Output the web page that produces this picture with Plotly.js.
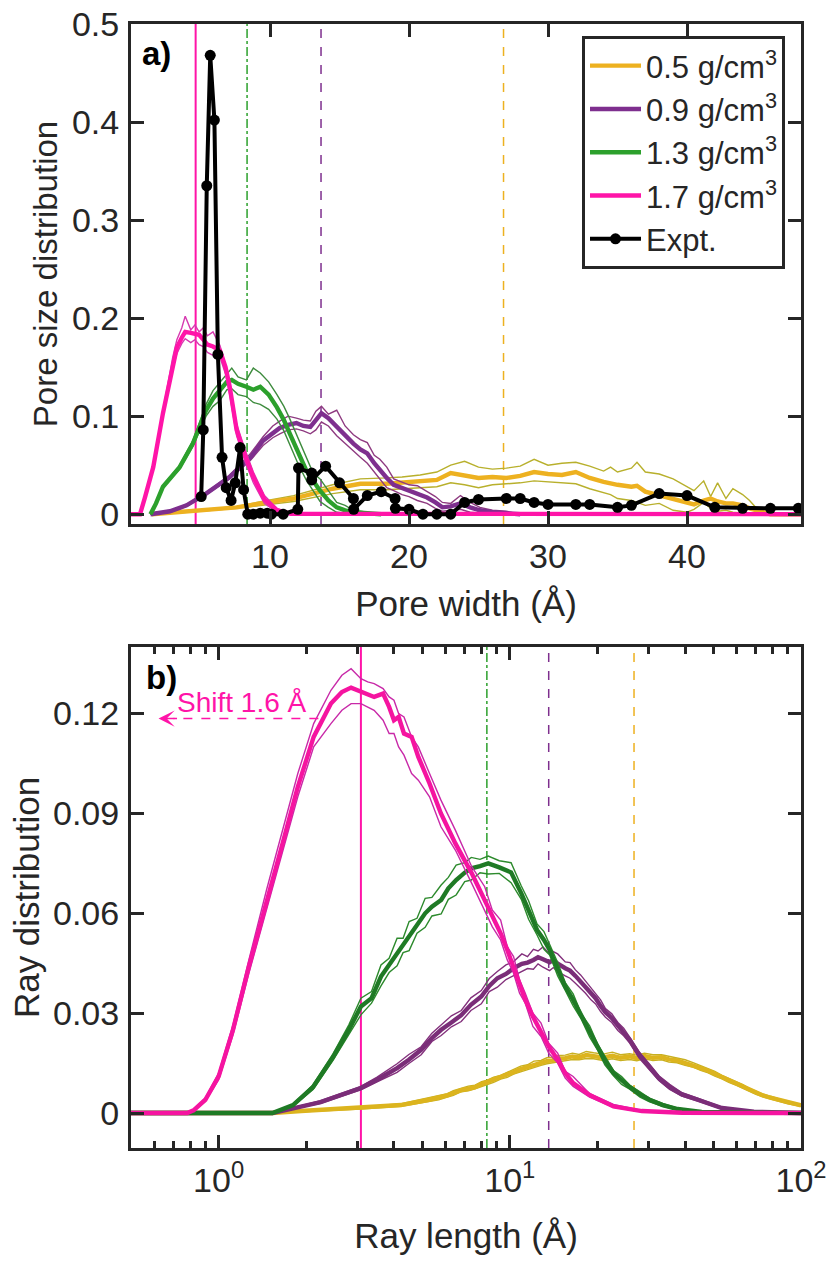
<!DOCTYPE html>
<html>
<head>
<meta charset="utf-8">
<script src="https://cdn.plot.ly/plotly-3.0.1.min.js"></script>
<style>html,body{margin:0;padding:0;background:#fff}</style>
</head>
<body>
<div id="chart" style="width:831px;height:1265px"></div>
<script>
// panel a: pore size distribution
const poreOrangeX = [1.5,4,7.6,9.8,11.7,14.5,16.5,18.4,19.5,20.8,22,23,24,25,26,27,28,29,30,31,32,33,34,34.5,35,36,36.4,37,38,39,40,40.5,41.2,41.7,42.2,42.8,43.3,44,44.5,45,46,48.2]
const poreOrange = [0,.003,.007,.012,.016,.026,.031,.031,.032,.033,.035,.042,.04,.037,.038,.037,.039,.043,.041,.04,.043,.037,.033,.031,.03,.028,.029,.023,.019,.016,.012,.01,.014,.016,.013,.011,.011,.009,.006,.004,0,0]
const poreOrangeHi = [0,.003,.008,.014,.019,.03,.036,.037,.038,.04,.043,.05,.054,.048,.046,.047,.049,.056,.05,.052,.053,.049,.044,.048,.043,.047,.053,.043,.041,.036,.028,.024,.034,.018,.032,.016,.026,.02,.014,.006,0,0]
const poreOrangeLo = [0,.002,.006,.01,.013,.021,.025,.025,.026,.027,.028,.032,.03,.027,.03,.031,.032,.034,.033,.032,.031,.026,.022,.02,.016,.014,.012,.009,.011,.004,.002,.005,.012,.006,.003,.004,.002,.001,.001,0,0,0]

const porePurpleX = [1.4,2.8,4,5.4,7.1,8.6,9.5,10.2,10.7,11.3,11.9,12.4,12.9,13.3,13.7,14.2,14.8,15.4,16,16.5,17,17.5,17.9,18.4,18.9,19.5,20,20.6,21.3,21.9,22.4,23,23.7,24.4,25.1,26,27,28]
const porePurple = [0,.003,.009,.021,.038,.058,.075,.083,.088,.091,.093,.09,.089,.096,.103,.098,.089,.081,.072,.066,.062,.052,.045,.037,.03,.027,.024,.021,.017,.012,.007,.008,.011,.007,.004,.002,.001,0]
const porePurpleHi = [0,.003,.01,.022,.04,.062,.079,.09,.095,.1,.098,.096,.095,.105,.11,.102,.106,.09,.081,.076,.073,.06,.056,.048,.036,.033,.03,.029,.023,.018,.012,.011,.019,.012,.007,.004,.003,0]
const porePurpleLo = [0,.002,.008,.02,.036,.055,.07,.078,.082,.086,.087,.085,.082,.086,.094,.09,.08,.072,.064,.058,.052,.043,.036,.027,.024,.02,.018,.014,.011,.006,.003,.004,.005,.002,.001,0,0,0]

const poreGreenX = [1.4,1.8,2.3,3.5,4.45,5.4,5.9,6.4,6.9,7.25,7.7,8.3,8.8,9.3,9.9,10.5,11,11.4,12,12.6,13.1,13.6,14.2,14.8,15.4,16,17,18]
const poreGreen = [0,.011,.028,.048,.072,.106,.118,.127,.135,.137,.133,.13,.127,.13,.122,.109,.096,.083,.064,.045,.034,.024,.014,.007,.004,.002,.001,0]
const poreGreenHi = [0,.012,.029,.05,.075,.112,.126,.134,.143,.149,.14,.137,.149,.144,.135,.122,.11,.098,.078,.058,.042,.036,.024,.012,.009,.004,.002,0]
const poreGreenLo = [0,.01,.027,.046,.069,.1,.11,.116,.127,.128,.122,.12,.114,.112,.107,.097,.085,.072,.052,.035,.024,.013,.007,.002,.001,0,0,0]

const porePinkX = [0,.65,1,1.6,2.3,3,3.3,3.65,3.9,4.3,4.6,4.9,5.2,5.5,5.9,6.4,6.8,7.1,7.6,8.2,8.8,9.6,10.5,11.5,48.2]
const porePink = [0,0,.017,.048,.103,.154,.17,.18,.186,.185,.184,.183,.178,.173,.171,.167,.15,.13,.086,.06,.038,.015,.004,.0005,0]
const porePinkHi = [0,0,.018,.05,.106,.16,.178,.19,.202,.188,.193,.186,.19,.182,.186,.172,.152,.134,.092,.066,.043,.019,.006,.001,0]
const porePinkLo = [0,0,.016,.046,.1,.148,.164,.174,.179,.175,.178,.173,.171,.165,.162,.16,.143,.122,.08,.054,.032,.011,.002,0,0]

const exptX = [5.05,5.2,5.45,5.7,6,6.25,6.55,6.85,7.2,7.5,7.85,8.1,8.4,8.8,9.3,9.8,10.1,10.95,12,12.05,13,13,14,15,16,16.02,17,18,19,19.02,20,21,22,23,24,25,27,28,29,30,32,33,35,36,38,40,42,44,46,48]
const expt = [.018,.086,.335,.468,.402,.163,.058,.027,.014,.032,.068,.025,0,0,.001,.001,0,0,.005,.047,.042,.035,.049,.032,.016,.005,.019,.023,.016,.006,.005,0,0,0,.012,.015,.016,.016,.012,.01,.01,.01,.007,.009,.021,.019,.007,.006,.006,.006]

// panel b: ray distribution
const rayOrangeX = [.5,1.53,1.92,3.08,4.23,5.28,5.7,6.1,6.4,6.81,7.2,7.6,8,8.37,8.8,9.3,9.8,10.3,10.9,11.5,12.1,12.8,13.4,14,14.7,15.5,16.4,17.3,18.3,19.4,20.9,22.5,24,25.8,27.3,29,31,33.2,35.2,37.5,40,42.8,45.2,48,50.6,53.5,56.5,60,63.2,66.8,70,74,78.5,83.3,90,100]
const rayOrange = [0,0,.0006,.0015,.0024,.004,.0046,.0053,.006,.0069,.0073,.0078,.0087,.0093,.0099,.0108,.0114,.0123,.0132,.0138,.0146,.015,.0156,.0158,.0164,.0165,.017,.0167,.0174,.0171,.0167,.0172,.0166,.017,.0165,.0171,.0166,.0168,.0161,.0158,.0151,.0144,.0135,.0127,.0118,.0108,.0098,.0088,.0079,.0069,.0061,.0053,.0046,.004,.0031,.0023]
const rayOrangeHi = [0,0,.0007,.0018,.0028,.0045,.0052,.0058,.0067,.0074,.0081,.0084,.0094,.0099,.0108,.0113,.0122,.0129,.0141,.0145,.0156,.0158,.0166,.0168,.0173,.0174,.018,.0176,.0185,.0181,.0177,.0183,.0175,.0178,.0174,.018,.0175,.0175,.017,.0165,.016,.0151,.0143,.0132,.0125,.0113,.0104,.0093,.0085,.0073,.0066,.0057,.0051,.0043,.0034,.0026]
const rayOrangeLo = [0,0,.0004,.0012,.002,.0035,.004,.0048,.0053,.0064,.0067,.0073,.008,.0087,.0092,.0102,.0107,.0117,.0124,.0131,.0138,.0143,.0148,.0151,.0155,.0157,.0161,.016,.0164,.0163,.0158,.0163,.0158,.0161,.0157,.0163,.0158,.016,.0153,.0151,.0143,.0137,.0128,.0121,.0111,.0103,.0092,.0083,.0074,.0065,.0056,.0049,.0042,.0037,.0028,.002]

const rayPurpleX = [.5,1.53,2.24,3.08,3.5,4.1,4.5,4.96,5.4,5.81,6.3,6.81,7.35,7.98,8.5,9.06,9.7,10.3,11,11.5,12.05,12.5,13,13.7,14.1,14.6,15.5,16.1,16.8,17.5,18.2,19,19.7,20.5,21.3,22.4,23.5,24.6,25.8,27.8,30.2,32.5,35.4,39,44.2,53.5,68.9,100]
const rayPurple = [0,0,.0033,.0075,.01,.0135,.016,.019,.0225,.025,.0272,.0294,.0325,.035,.0382,.0405,.0418,.0435,.0448,.0452,.046,.0468,.0462,.0453,.046,.0449,.0435,.0428,.0412,.0394,.038,.0357,.0345,.0322,.0303,.0285,.0262,.0243,.022,.0175,.0138,.0105,.0078,.0056,.004,.0015,.0004,0]
const rayPurpleHi = [0,0,.0037,.008,.0108,.0148,.0176,.0199,.024,.0264,.0292,.0308,.0346,.0368,.0404,.0425,.0445,.0455,.0478,.047,.0492,.0487,.0499,.0478,.0485,.0478,.0454,.0452,.043,.0415,.0396,.0376,.0358,.034,.0314,.0298,.0272,.0255,.0228,.0184,.0147,.0112,.0086,.0061,.0045,.0018,.0005,0]
const rayPurpleLo = [0,0,.0029,.007,.0094,.0122,.0149,.0175,.0215,.0233,.0259,.0275,.0308,.0328,.0365,.0378,.0401,.0412,.0425,.0434,.0432,.0448,.0438,.0428,.0437,.0425,.0412,.0405,.039,.0375,.036,.034,.0328,.0305,.0288,.0272,.0248,.0232,.021,.0165,.0129,.0098,.0071,.0051,.0036,.0012,.0003,0]

const rayGreenX = [.5,1.53,1.8,2.11,2.47,2.8,3.08,3.35,3.61,3.85,4.1,4.3,4.51,4.8,5.12,5.4,5.81,6.15,6.54,7,7.37,7.9,8.43,9.2,10.1,10.95,11.6,12.4,13.1,13.7,14.6,15.5,16.5,17.6,18.8,20,21.2,22.7,24.2,25.8,28,30.2,33.5,37.7,45.6,100]
const rayGreen = [0,0,.0024,.0078,.0168,.025,.032,.0345,.041,.0445,.048,.0505,.053,.0565,.06,.062,.064,.0675,.07,.0722,.0735,.0742,.075,.0738,.0723,.066,.061,.055,.052,.049,.0432,.038,.034,.029,.0245,.02,.0158,.012,.0098,.0078,.0056,.004,.0024,.0012,.0003,0]
const rayGreenHi = [0,0,.0027,.0085,.0178,.0265,.0345,.0365,.0445,.0465,.0525,.0525,.0575,.0585,.0645,.0648,.0685,.0708,.0745,.0752,.0768,.0762,.0772,.0758,.0752,.0682,.0638,.0568,.0545,.0505,.0452,.0392,.0358,.0298,.0262,.0208,.0172,.0128,.011,.0084,.0064,.0044,.0029,.0015,.0004,0]
const rayGreenLo = [0,0,.0021,.0071,.0158,.0235,.0295,.033,.0382,.0422,.0442,.0482,.0488,.054,.0558,.0592,.0598,.0642,.0655,.0695,.07,.0722,.0718,.072,.0692,.0642,.0582,.0535,.0492,.0475,.0412,.0368,.0322,.0282,.0228,.019,.0145,.0112,.0086,.0072,.0048,.0034,.002,.001,.0002,0]

const rayPinkX = [.5,.78,.82,.9,1,1.12,1.27,1.46,1.67,1.87,2.12,2.43,2.65,2.85,3.08,3.25,3.42,3.67,3.85,4,4.15,4.33,4.6,4.85,5.3,5.8,6.5,7.4,8.2,8.7,9.3,9.8,10.3,10.8,11.3,12,12.8,13.6,14.6,15.5,16.5,18.8,22.7,28.4,39,100]
const rayPink = [0,0,.0008,.004,.011,.025,.044,.064,.082,.098,.113,.123,.1265,.1278,.1265,.1255,.125,.126,.122,.118,.119,.114,.113,.107,.099,.09,.081,.072,.064,.059,.054,.049,.044,.039,.034,.029,.024,.02,.016,.012,.009,.0054,.002,.0006,.0001,0]
const rayPinkHi = [0,0,.001,.0045,.012,.0265,.046,.067,.086,.102,.117,.127,.1315,.1335,.1305,.1295,.129,.1275,.125,.124,.12,.119,.113,.11,.102,.094,.085,.074,.068,.061,.058,.05,.047,.04,.036,.03,.027,.021,.018,.0125,.011,.0058,.0026,.0008,.0002,0]
const rayPinkLo = [0,0,.0006,.0035,.01,.0235,.042,.061,.079,.095,.11,.117,.121,.123,.123,.122,.121,.118,.114,.114,.11,.1075,.102,.1,.095,.086,.079,.069,.061,.056,.052,.046,.042,.036,.033,.026,.023,.018,.015,.0105,.008,.0048,.0017,.0004,0,0]

const legendNames = ['0.5 g/cm<sup>3</sup>', '0.9 g/cm<sup>3</sup>', '1.3 g/cm<sup>3</sup>', '1.7 g/cm<sup>3</sup>', 'Expt.']
const poreMarks = [26.8, 13.67, 8.35, 4.65]
const rayMarks = [26.7, 13.6, 8.34, 3.08]
const markDash = ['dash', 'dash', 'dashdot', 'solid']

const ink = '#262626'
const font = 'Liberation Sans, Arial, sans-serif'
const colA = ['#edb120', '#7e2f8e', '#2ca02c', '#ff14a8']
const thinA = ['#b8b02c', '#8e3a80', '#3d8b3d', '#d63ab0']
const colB = ['#dcb41e', '#7a2d78', '#1f7a25', '#f514a0']
const thinB = ['#c8b020', '#83307c', '#2c8a2c', '#c829a8']

const traces = []
function band (xa, ya, x, mean, hi, lo, col, thin, name) {
  ;[hi, lo].forEach(y => traces.push({ x, y, xaxis: xa, yaxis: ya, mode: 'lines', showlegend: false, line: { color: thin, width: 1.4 }, hoverinfo: 'skip' }))
  traces.push({ x, y: mean, xaxis: xa, yaxis: ya, mode: 'lines', name: name || '', showlegend: !!name, legendgroup: name || undefined, line: { color: col, width: 4.4 } })
}
band('x', 'y', poreOrangeX, poreOrange, poreOrangeHi, poreOrangeLo, colA[0], thinA[0], legendNames[0])
band('x', 'y', porePurpleX, porePurple, porePurpleHi, porePurpleLo, colA[1], thinA[1], legendNames[1])
band('x', 'y', poreGreenX, poreGreen, poreGreenHi, poreGreenLo, colA[2], thinA[2], legendNames[2])
band('x', 'y', porePinkX, porePink, porePinkHi, porePinkLo, colA[3], thinA[3], legendNames[3])
traces.push({ x: exptX, y: expt, mode: 'lines+markers', name: legendNames[4], legendgroup: legendNames[4], line: { color: '#000', width: 4 }, marker: { color: '#000', size: 11 } })

band('x2', 'y2', rayOrangeX, rayOrange, rayOrangeHi, rayOrangeLo, colB[0], thinB[0])
band('x2', 'y2', rayPurpleX, rayPurple, rayPurpleHi, rayPurpleLo, colB[1], thinB[1])
band('x2', 'y2', rayGreenX, rayGreen, rayGreenHi, rayGreenLo, colB[2], thinB[2])
band('x2', 'y2', rayPinkX, rayPink, rayPinkHi, rayPinkLo, colB[3], thinB[3])

const shapes = []
poreMarks.forEach((v, i) => shapes.push({ type: 'line', layer: 'below', xref: 'x', yref: 'y domain', x0: v, x1: v, y0: 0, y1: 1, line: { color: colA[i], width: i === 3 ? 2 : 1.5, dash: markDash[i] } }))
rayMarks.forEach((v, i) => shapes.push({ type: 'line', layer: 'below', xref: 'x2', yref: 'y2 domain', x0: v, x1: v, y0: 0, y1: 1, line: { color: colA[i], width: i === 3 ? 2 : 1.5, dash: markDash[i] } }))
// shift arrow shaft
shapes.push({ type: 'line', xref: 'x2', yref: 'y2', x0: 2.2, x1: 0.7, y0: 0.1185, y1: 0.1185, line: { color: '#ff14a8', width: 1.5, dash: 'dash' } })

const axisBase = {
  showgrid: false, zeroline: false, showline: true, linecolor: ink, linewidth: 3, mirror: 'allticks',
  ticks: 'inside', tickcolor: ink, tickwidth: 3, ticklen: 13,
  tickfont: { family: font, size: 34, color: ink }
}
function title (text, standoff, size) {
  return { text, standoff, font: { family: font, size, color: ink } }
}

const layout = {
  width: 831, height: 1265, margin: { l: 0, r: 0, t: 0, b: 0 }, paper_bgcolor: '#fff', plot_bgcolor: '#fff',
  showlegend: true,
  legend: {
    x: 582 / 831, y: 1 - 36 / 1265, xanchor: 'left', yanchor: 'top', bgcolor: '#fff', bordercolor: ink, borderwidth: 3,
    font: { family: font, size: 31, color: ink }, itemwidth: 51, tracegroupgap: 8, traceorder: 'normal'
  },
  xaxis: Object.assign({}, axisBase, { domain: [131 / 831, 801 / 831], anchor: 'y', range: [0, 48.2], tickvals: [10, 20, 30, 40], title: title('Pore width (Å)', 18, 35) }),
  yaxis: Object.assign({}, axisBase, { domain: [1 - 524 / 1265, 1 - 24 / 1265], anchor: 'x', range: [-0.01, 0.5], tickvals: [0, 0.1, 0.2, 0.3, 0.4, 0.5], ticktext: ['0', '0.1', '0.2', '0.3', '0.4', '0.5'], ticklabelstandoff: 2, title: title('Pore size distribution', 5, 33) }),
  xaxis2: Object.assign({}, axisBase, {
    domain: [131 / 831, 801 / 831], anchor: 'y2', type: 'log', range: [Math.log10(0.5), 2],
    tickvals: [1, 10, 100], ticktext: ['10<sup>0</sup>', '10<sup>1</sup>', '10<sup>2</sup>'],
    minor: { ticks: 'inside', ticklen: 7, tickwidth: 2.5, tickcolor: ink, tickvals: [0.5, 0.6, 0.7, 0.8, 0.9, 2, 3, 4, 5, 6, 7, 8, 9, 20, 30, 40, 50, 60, 70, 80, 90] },
    title: title('Ray length (Å)', 26, 35)
  }),
  yaxis2: Object.assign({}, axisBase, { domain: [1 - 1148 / 1265, 1 - 647 / 1265], anchor: 'x2', range: [-0.0105, 0.14], tickvals: [0, 0.03, 0.06, 0.09, 0.12], ticktext: ['0', '0.03', '0.06', '0.09', '0.12'], ticklabelstandoff: 2, title: title('Ray distribution', 3, 35) }),
  shapes,
  annotations: [
    { xref: 'paper', yref: 'paper', x: 140 / 831, y: 1 - 54 / 1265, yanchor: 'middle', text: '<b>a)</b>', showarrow: false, xanchor: 'left', font: { family: font, size: 33, color: '#000' } },
    { xref: 'paper', yref: 'paper', x: 144 / 831, y: 1 - 677 / 1265, yanchor: 'middle', text: '<b>b)</b>', showarrow: false, xanchor: 'left', font: { family: font, size: 33, color: '#000' } },
    { xref: 'paper', yref: 'paper', x: 175 / 831, y: 1 - 702 / 1265, yanchor: 'middle', text: 'Shift 1.6 Å', showarrow: false, xanchor: 'left', font: { family: font, size: 28, color: '#ff14a8' } },
    { xref: 'x2', yref: 'y2', x: -0.2065, y: 0.1185, ax: 20, ay: 0, text: '', showarrow: true, arrowhead: 3, arrowsize: 1.8, arrowwidth: 1.5, arrowcolor: '#ff14a8' }
  ]
}

Plotly.newPlot('chart', traces, layout, { displayModeBar: false })
</script>
</body>
</html>
